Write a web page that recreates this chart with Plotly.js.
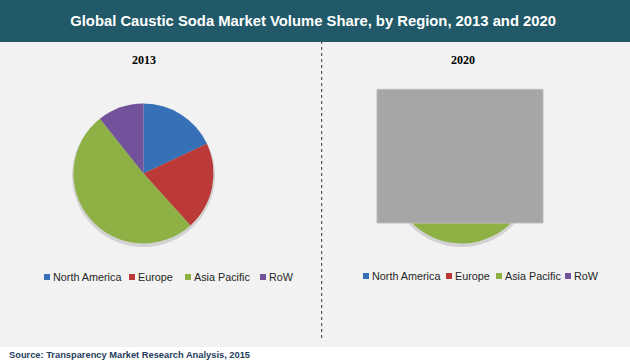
<!DOCTYPE html>
<html>
<head>
<meta charset="utf-8">
<script src="https://cdn.plot.ly/plotly-3.0.1.min.js"></script>
<style>html,body{margin:0;padding:0;background:#fff;}#chart{width:630px;height:362px;}</style>
</head>
<body>
<div id="chart"></div>
<script>
// ---- data ----
const regions = ["North America", "Europe", "Asia Pacific", "RoW"];
const share2013 = [18, 20.3, 51, 10.7];
const share2020 = [17, 19, 54, 10];
const panelTitles = ["2013", "2020"];
const chartTitle = "Global Caustic Soda Market Volume Share, by Region, 2013 and 2020";
const sourceText = "Source: Transparency Market Research Analysis, 2015";

// ---- styles ----
const sliceColors = ["#3671b8", "#bb3a37", "#8db144", "#71529b"];
const W = 630, H = 362;
const px = x => x / W;
const py = y => 1 - y / H;

function pieTrace(values, cx, cy, r) {
  return {
    type: "pie",
    labels: regions,
    values: values,
    sort: false,
    direction: "clockwise",
    rotation: 0,
    textinfo: "none",
    hoverinfo: "label+percent",
    showlegend: false,
    marker: {colors: sliceColors, line: {width: 0}},
    domain: {x: [px(cx - r), px(cx + r)], y: [py(cy + r), py(cy - r)]}
  };
}

const data = [
  pieTrace(share2013, 143.5, 173.5, 70),
  pieTrace(share2020, 461.5, 173.5, 70)
];

const shapes = [
  // panel background
  {type: "rect", xref: "paper", yref: "paper", x0: 0, x1: 1, y0: py(347), y1: py(42), fillcolor: "#f2f2f2", line: {width: 0}, layer: "below"},
  // title bar
  {type: "rect", xref: "paper", yref: "paper", x0: 0, x1: 1, y0: py(42), y1: 1, fillcolor: "#215968", line: {width: 0}, layer: "below"},
  // divider
  {type: "line", xref: "paper", yref: "paper", x0: px(321.7), x1: px(321.7), y0: py(338), y1: py(42), line: {color: "#333333", width: 1, dash: "dot"}, layer: "below"},
  // pie shadows
  {type: "circle", xref: "paper", yref: "paper", x0: px(143.5 - 71.5), x1: px(143.5 + 71.5), y0: py(175.5 + 71.5), y1: py(175.5 - 71.5), fillcolor: "rgba(0,0,0,0.13)", line: {width: 0}, layer: "below"},
  {type: "circle", xref: "paper", yref: "paper", x0: px(461.5 - 71.5), x1: px(461.5 + 71.5), y0: py(175.5 + 71.5), y1: py(175.5 - 71.5), fillcolor: "rgba(0,0,0,0.13)", line: {width: 0}, layer: "below"},
  // grey block covering the 2020 chart
  {type: "rect", xref: "paper", yref: "paper", x0: px(377), x1: px(543), y0: py(223), y1: py(89.3), fillcolor: "#a6a6a6", line: {color: "#bdbdbd", width: 1}, layer: "above"}
];

const annotations = [
  {text: "<b>" + panelTitles[0] + "</b>", x: px(143.5), y: py(60), xref: "paper", yref: "paper", showarrow: false, xanchor: "center", yanchor: "middle", font: {family: "Liberation Serif", size: 12, color: "#000"}},
  {text: "<b>" + panelTitles[1] + "</b>", x: px(463), y: py(60), xref: "paper", yref: "paper", showarrow: false, xanchor: "center", yanchor: "middle", font: {family: "Liberation Serif", size: 12, color: "#000"}},
  {text: "<b>" + sourceText + "</b>", x: px(7), y: py(355), xref: "paper", yref: "paper", showarrow: false, xanchor: "left", yanchor: "middle", font: {family: "Liberation Sans", size: 9.3, color: "#1f3d5c"}}
];

// legends (one per panel)
const legendTextX = [[52, 137, 193, 268], [371, 454, 504, 573]];
const legendY = [277, 276];
legendTextX.forEach((xs, li) => {
  regions.forEach((name, i) => {
    const tx = xs[i];
    const cy = legendY[li];
    shapes.push({type: "rect", xref: "paper", yref: "paper", x0: px(tx - 8), x1: px(tx - 2), y0: py(cy + 3), y1: py(cy - 3), fillcolor: sliceColors[i], line: {width: 0}, layer: "above"});
    annotations.push({text: name, x: px(tx - 1), y: py(cy), xref: "paper", yref: "paper", showarrow: false, xanchor: "left", yanchor: "middle", font: {family: "Liberation Sans", size: 10.8, color: "#262626"}});
  });
});

const layout = {
  width: W, height: H,
  margin: {l: 0, r: 0, t: 0, b: 0},
  paper_bgcolor: "#ffffff",
  plot_bgcolor: "rgba(0,0,0,0)",
  showlegend: false,
  title: {text: "<b>" + chartTitle + "</b>", x: 0.497, xanchor: "center", y: py(21), yanchor: "middle", font: {family: "Liberation Sans", size: 14.8, color: "#ffffff"}},
  shapes: shapes,
  annotations: annotations
};

Plotly.newPlot("chart", data, layout, {displayModeBar: false, staticPlot: true});
</script>
</body>
</html>
